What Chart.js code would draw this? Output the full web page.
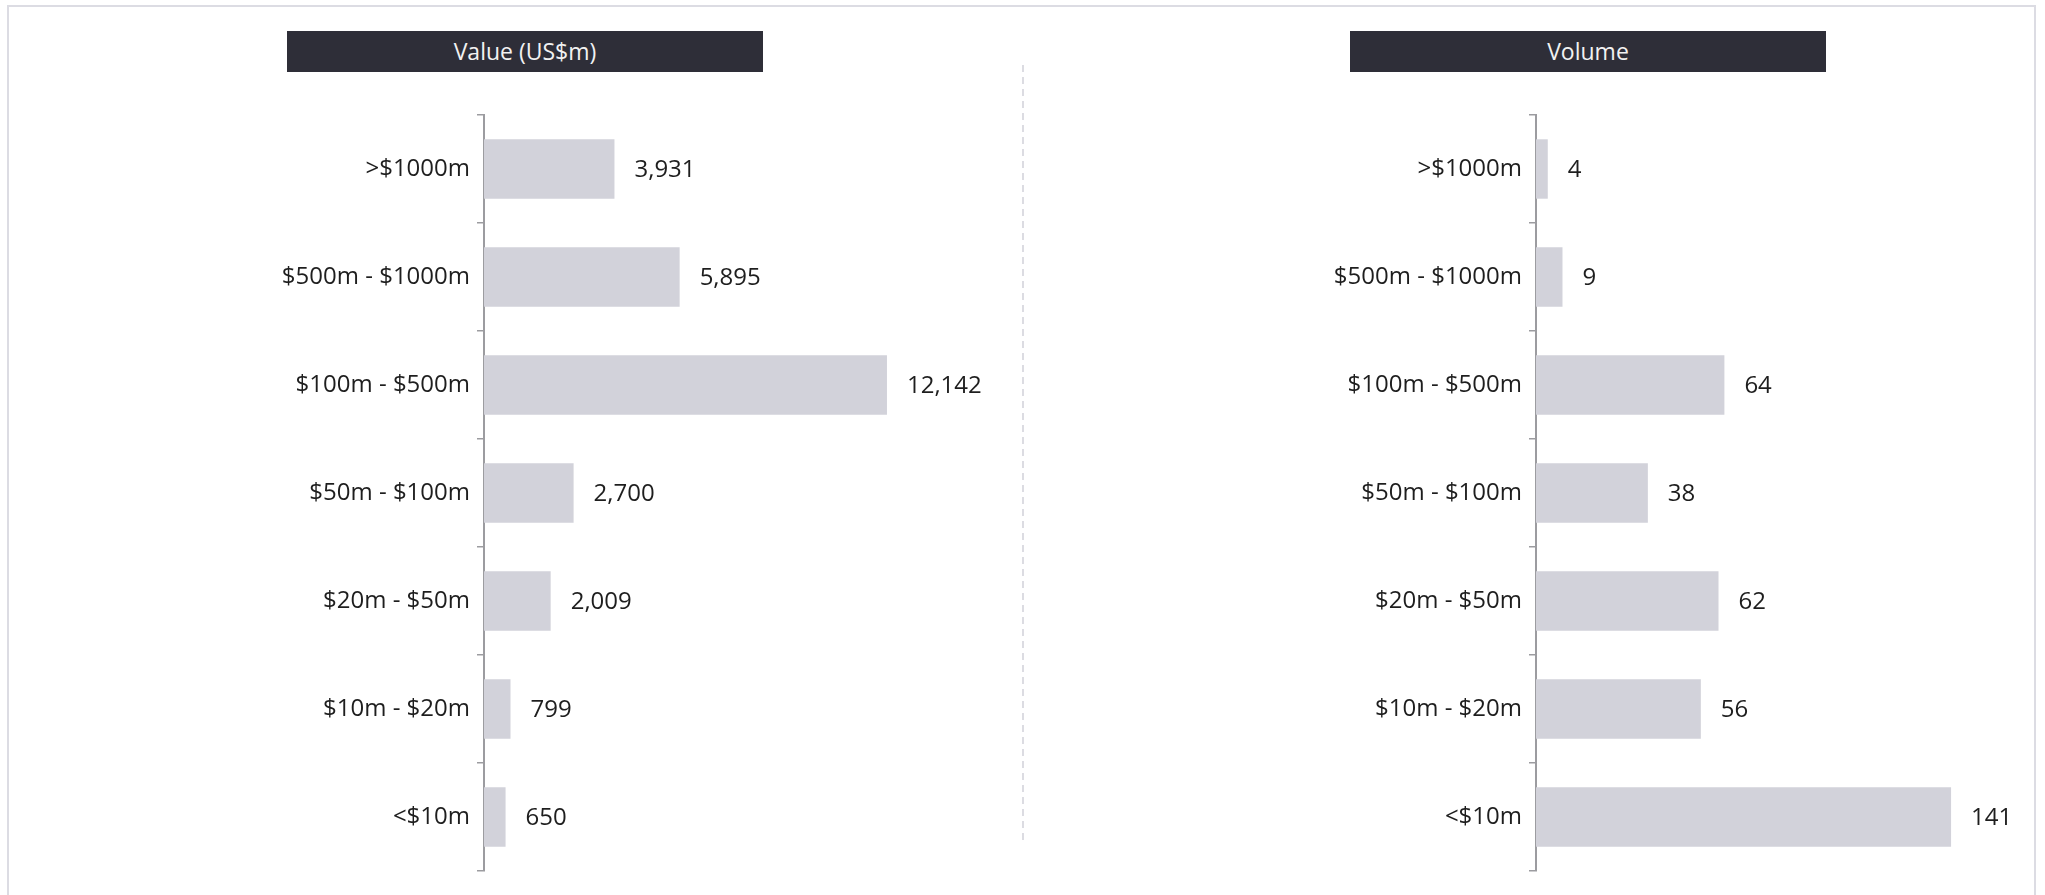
<!DOCTYPE html>
<html>
<head>
<meta charset="utf-8">
<script src="https://cdn.jsdelivr.net/npm/chart.js@4/dist/chart.umd.min.js"></script>
<style>
  html, body { margin: 0; padding: 0; background: #fff; overflow: hidden; }
  body { width: 2045px; height: 895px; position: relative; font-family: 'Open Sans', sans-serif; }
  .frame { position: absolute; left: 7px; top: 5px; width: 2025px; height: 1000px; border: 2px solid #dcdce3; }
  .title { position: absolute; top: 31px; width: 476px; height: 41px; line-height: 41px; background: #2e2e38;
           color: #f2f2f2; font-size: 23px; text-align: center; }
  .divider { position: absolute; left: 1022px; top: 65px; width: 2px; height: 776px;
             background: repeating-linear-gradient(to bottom, #dcdce2 0 7px, transparent 7px 12px); }
  canvas { position: absolute; }
</style>
</head>
<body>
<div class="frame"></div>
<div class="title" style="left:287px">Value (US$m)</div>
<div class="title" style="left:1350px">Volume</div>
<div class="divider"></div>
<canvas id="valueChart" width="950" height="776" style="left:100px; top:105px"></canvas>
<canvas id="volumeChart" width="940" height="776" style="left:1100px; top:105px"></canvas>
<script>
  const categories = ['>$1000m', '$500m - $1000m', '$100m - $500m', '$50m - $100m', '$20m - $50m', '$10m - $20m', '<$10m'];
  const valueData = [3931, 5895, 12142, 2700, 2009, 799, 650];
  const volumeData = [4, 9, 64, 38, 62, 56, 141];

  const textColor = '#1e1e1e';
  const axisColor = '#9c9ca0';
  const barColor = '#d2d2da';
  const font = { family: "'Open Sans', sans-serif", size: 24 };

  // Draw the number just right of each bar
  const barLabels = {
      id: 'barLabels',
      afterDatasetsDraw(chart) {
          const ctx = chart.ctx;
          const meta = chart.getDatasetMeta(0);
          const values = chart.data.datasets[0].data;
          ctx.save();
          ctx.font = font.size + 'px ' + font.family;
          ctx.fillStyle = textColor;
          ctx.textBaseline = 'middle';
          ctx.textAlign = 'left';
          meta.data.forEach((bar, i) => {
              ctx.fillText(values[i].toLocaleString('en-US'), bar.x + 20, bar.y + 1);
          });
          ctx.restore();
      }
  };

  function makeChart(id, data, xMax, axisWidth, padRight) {
      return new Chart(document.getElementById(id), {
          type: 'bar',
          data: {
              labels: categories,
              datasets: [{
                  data: data,
                  backgroundColor: barColor,
                  borderWidth: 0,
                  barPercentage: 0.55,
                  categoryPercentage: 1
              }]
          },
          options: {
              indexAxis: 'y',
              responsive: false,
              animation: false,
              layout: { padding: { top: 10, bottom: 10, right: padRight, left: 0 } },
              plugins: { legend: { display: false }, tooltip: { enabled: false } },
              scales: {
                  x: { display: false, min: 0, max: xMax },
                  y: {
                      grid: { drawOnChartArea: false, drawTicks: true, tickLength: 7, color: axisColor, lineWidth: 1.5, offset: true },
                      border: { display: true, color: axisColor, width: 2 },
                      ticks: { padding: 7, color: textColor, font: font },
                      afterFit(scale) {
                          scale.width = axisWidth;
                          scale.paddingTop = 0;
                          scale.paddingBottom = 0;
                      }
                  }
              }
          },
          plugins: [barLabels]
      });
  }

  makeChart('valueChart', valueData, 16000, 384, 35);
  makeChart('volumeChart', volumeData, 160, 436, 33);
</script>
</body>
</html>
